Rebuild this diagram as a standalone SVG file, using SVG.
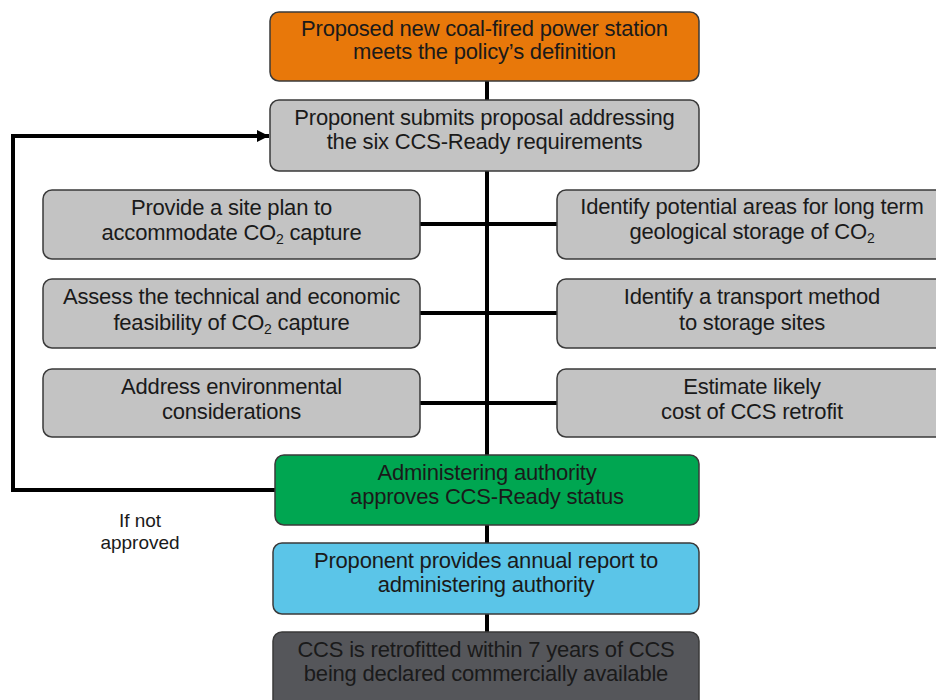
<svg xmlns="http://www.w3.org/2000/svg" width="936" height="700" viewBox="0 0 936 700">
<defs>
<style>
.box{stroke:#3a3a3a;stroke-width:1.5}
.gray{fill:#c3c3c3}
.t{font-family:"Liberation Sans",Arial,sans-serif;font-size:22px;fill:#1a1a1a;text-anchor:middle;letter-spacing:-0.2px}
.s{font-size:14px}
.c{stroke:#000;stroke-width:4;fill:none}
.lbl{font-family:"Liberation Sans",Arial,sans-serif;font-size:19px;fill:#1a1a1a;text-anchor:middle}
</style>
<marker id="ah" viewBox="0 0 10 10" refX="10" refY="5" markerWidth="3" markerHeight="3" orient="auto" markerUnits="strokeWidth">
<path d="M0,0 L10,5 L0,10 z" fill="#000"/>
</marker>
</defs>
<rect width="936" height="700" fill="#fff"/>
<g id="connectors">
<line class="c" x1="487" y1="81" x2="487" y2="634"/>
<line class="c" x1="420" y1="224" x2="487" y2="224"/>
<line class="c" x1="420" y1="313" x2="487" y2="313"/>
<line class="c" x1="420" y1="403" x2="487" y2="403"/>
<line class="c" x1="487" y1="224" x2="557" y2="224"/>
<line class="c" x1="487" y1="313" x2="557" y2="313"/>
<line class="c" x1="487" y1="403" x2="557" y2="403"/>
<polyline class="c" points="275,490 13,490 13,136 269,136" marker-end="url(#ah)"/>
<text class="lbl" x="140" y="527">If not</text>
<text class="lbl" x="140" y="549">approved</text>
</g>
<g id="n1">
<rect class="box" x="270" y="12" width="429" height="69" rx="9" fill="#e8780a"/>
<text class="t" x="484.5" y="36">Proposed new coal-fired power station</text>
<text class="t" x="484.5" y="59">meets the policy’s definition</text>
</g>
<g id="n2">
<rect class="box gray" x="270" y="100" width="429" height="71" rx="9"/>
<text class="t" x="484.5" y="125">Proponent submits proposal addressing</text>
<text class="t" x="484.5" y="149">the six CCS-Ready requirements</text>
</g>
<g id="l1">
<rect class="box gray" x="43" y="190" width="377" height="69" rx="9"/>
<text class="t" x="231.5" y="215">Provide a site plan to</text>
<text class="t" x="231.5" y="240">accommodate CO<tspan class="s" dy="4">2</tspan><tspan dy="-4"> capture</tspan></text>
</g>
<g id="l2">
<rect class="box gray" x="43" y="279" width="377" height="69" rx="9"/>
<text class="t" x="231.5" y="304">Assess the technical and economic</text>
<text class="t" x="231.5" y="330">feasibility of CO<tspan class="s" dy="4">2</tspan><tspan dy="-4"> capture</tspan></text>
</g>
<g id="l3">
<rect class="box gray" x="43" y="369" width="377" height="68" rx="9"/>
<text class="t" x="231.5" y="394">Address environmental</text>
<text class="t" x="231.5" y="419">considerations</text>
</g>
<g id="r1">
<rect class="box gray" x="557" y="190" width="390" height="69" rx="9"/>
<text class="t" x="752" y="214">Identify potential areas for long term</text>
<text class="t" x="752" y="239">geological storage of CO<tspan class="s" dy="4">2</tspan></text>
</g>
<g id="r2">
<rect class="box gray" x="557" y="279" width="390" height="69" rx="9"/>
<text class="t" x="752" y="304">Identify a transport method</text>
<text class="t" x="752" y="330">to storage sites</text>
</g>
<g id="r3">
<rect class="box gray" x="557" y="369" width="390" height="68" rx="9"/>
<text class="t" x="752" y="394">Estimate likely</text>
<text class="t" x="752" y="419">cost of CCS retrofit</text>
</g>
<g id="n3">
<rect class="box" x="275" y="455" width="424" height="70" rx="9" fill="#00a651"/>
<text class="t" x="487" y="480">Administering authority</text>
<text class="t" x="487" y="504">approves CCS-Ready status</text>
</g>
<g id="n4">
<rect class="box" x="273" y="543" width="426" height="71" rx="9" fill="#5bc5e8"/>
<text class="t" x="486" y="568">Proponent provides annual report to</text>
<text class="t" x="486" y="592">administering authority</text>
</g>
<g id="n5">
<rect class="box" x="273" y="632" width="426" height="80" rx="9" fill="#55565a"/>
<text class="t" x="486" y="657">CCS is retrofitted within 7 years of CCS</text>
<text class="t" x="486" y="681">being declared commercially available</text>
</g>
</svg>
